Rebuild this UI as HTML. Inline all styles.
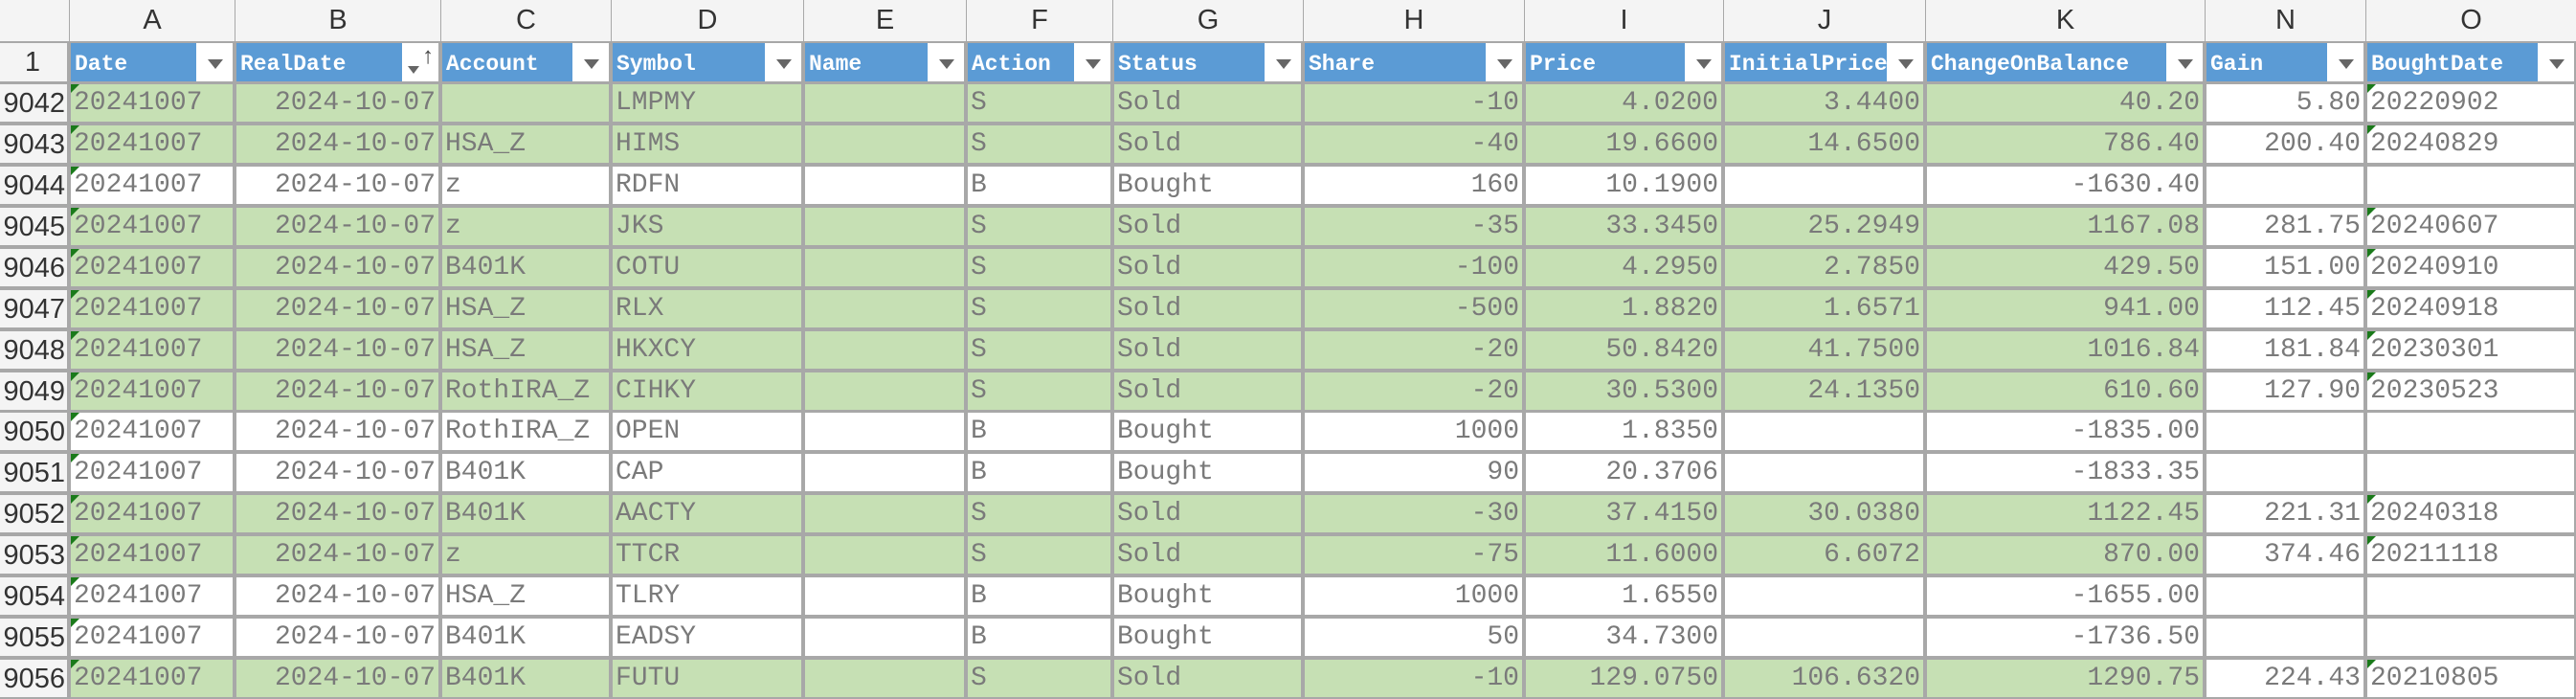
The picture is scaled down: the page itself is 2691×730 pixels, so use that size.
<!DOCTYPE html>
<html><head><meta charset="utf-8"><style>
body{margin:0;width:2691px;height:730px;overflow:hidden;background:#a8a8a8;font-family:"Liberation Mono",monospace;position:relative}
.c{position:absolute;box-sizing:border-box;overflow:hidden;white-space:nowrap}
.let{background:#f4f4f4;color:#333;font-family:"Liberation Sans",sans-serif;font-size:29px;text-align:center;line-height:43px}
.rn{background:#f4f4f4;color:#333;font-family:"Liberation Sans",sans-serif;font-size:29px;text-align:right;padding-right:2px;line-height:40px}
.hd{background:#5b9bd5;color:#fff;font-weight:bold;font-size:23px;line-height:44px;padding-left:4px}
.fb{position:absolute;right:0;top:0;width:38px;height:100%;background:#fff}
.fb:after{content:"";position:absolute;left:12px;top:17px;border-left:8px solid transparent;border-right:8px solid transparent;border-top:10px solid #666}
.srt:after{left:6px;top:24px;border-left:6px solid transparent;border-right:6px solid transparent;border-top:8px solid #666}
.srt:before{content:"↑";position:absolute;left:20px;top:-6px;color:#444;font-size:24px;font-weight:normal}
.d{font-size:28px;color:#7a7a7a;line-height:40px;padding:0 3px}
.r{text-align:right}
.g{background:#c6e0b4}.w{background:#fff}
.tri{position:absolute;left:0;top:0;border-top:9px solid #1a7a1a;border-right:9px solid transparent}
</style></head><body>
<script>
const letters=["","A","B","C","D","E","F","G","H","I","J","K","N","O"];
const headers=["Date","RealDate","Account","Symbol","Name","Action","Status","Share","Price","InitialPrice","ChangeOnBalance","Gain","BoughtDate"];
const rowNums=[9042,9043,9044,9045,9046,9047,9048,9049,9050,9051,9052,9053,9054,9055,9056];
const rows=[
["20241007","2024-10-07","","LMPMY","","S","Sold","-10","4.0200","3.4400","40.20","5.80","20220902"],
["20241007","2024-10-07","HSA_Z","HIMS","","S","Sold","-40","19.6600","14.6500","786.40","200.40","20240829"],
["20241007","2024-10-07","z","RDFN","","B","Bought","160","10.1900","","-1630.40","",""],
["20241007","2024-10-07","z","JKS","","S","Sold","-35","33.3450","25.2949","1167.08","281.75","20240607"],
["20241007","2024-10-07","B401K","COTU","","S","Sold","-100","4.2950","2.7850","429.50","151.00","20240910"],
["20241007","2024-10-07","HSA_Z","RLX","","S","Sold","-500","1.8820","1.6571","941.00","112.45","20240918"],
["20241007","2024-10-07","HSA_Z","HKXCY","","S","Sold","-20","50.8420","41.7500","1016.84","181.84","20230301"],
["20241007","2024-10-07","RothIRA_Z","CIHKY","","S","Sold","-20","30.5300","24.1350","610.60","127.90","20230523"],
["20241007","2024-10-07","RothIRA_Z","OPEN","","B","Bought","1000","1.8350","","-1835.00","",""],
["20241007","2024-10-07","B401K","CAP","","B","Bought","90","20.3706","","-1833.35","",""],
["20241007","2024-10-07","B401K","AACTY","","S","Sold","-30","37.4150","30.0380","1122.45","221.31","20240318"],
["20241007","2024-10-07","z","TTCR","","S","Sold","-75","11.6000","6.6072","870.00","374.46","20211118"],
["20241007","2024-10-07","HSA_Z","TLRY","","B","Bought","1000","1.6550","","-1655.00","",""],
["20241007","2024-10-07","B401K","EADSY","","B","Bought","50","34.7300","","-1736.50","",""],
["20241007","2024-10-07","B401K","FUTU","","S","Sold","-10","129.0750","106.6320","1290.75","224.43","20210805"]];
const xs=[0,72,245,460,638,839,1009,1162,1361,1592,1800,2011,2303,2471,2691];
const rightCols=[1,7,8,9,10,11];
function mk(cls,x,y,w,h,txt){const e=document.createElement('div');e.className='c '+cls;e.style.left=x+'px';e.style.top=y+'px';e.style.width=w+'px';e.style.height=h+'px';e.textContent=txt;document.body.appendChild(e);return e;}
for(let i=0;i<14;i++){
 const e=mk('let',xs[i]+(i?1:0),0,xs[i+1]-xs[i]-(i?1:0),43,letters[i]);
 
 
}
const r1=mk('rn',0,45,70,40,'1');r1.style.textAlign='center';


for(let j=0;j<13;j++){
 const e=mk('hd',xs[j+1]+2,45,xs[j+2]-xs[j+1]-4,40,headers[j]);
 
 
 const b=document.createElement('div');b.className='fb'+(j===1?' srt':'');
 
 
 e.appendChild(b);
}
const rh=42.93;
rows.forEach((row,i)=>{
 const y=Math.round(86+i*rh)+2,h=Math.round(rh)-4;
 const sold=row[5]==='S';
 const rn=mk('rn',0,y,70,h,rowNums[i]);
 
 
 row.forEach((v,j)=>{
  const bg=(sold&&j<11)?'g':'w';
  const e=mk('d '+bg+(rightCols.includes(j)?' r':''),xs[j+1]+2,y,xs[j+2]-xs[j+1]-4,h,v);
  
  
  if(j===0||(j===12&&v)){const t=document.createElement('div');t.className='tri';e.appendChild(t);}
 });
});
</script>
</body></html>
